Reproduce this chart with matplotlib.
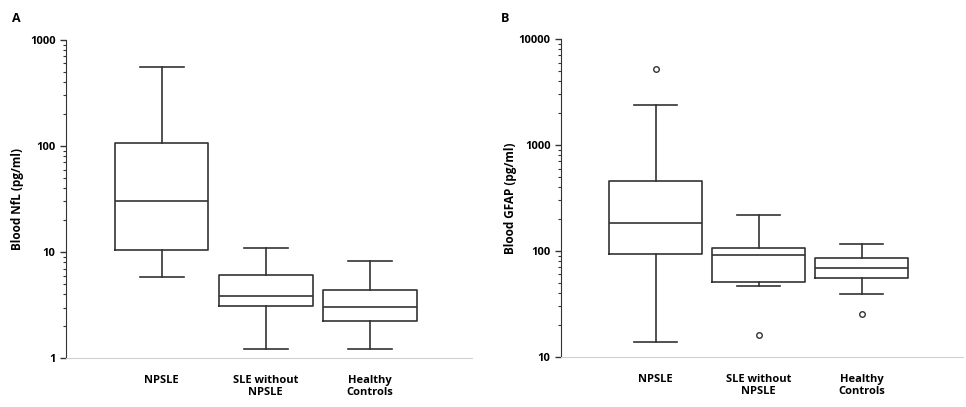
import matplotlib.pyplot as plt
from matplotlib.ticker import LogLocator, NullFormatter

plt.rcParams['font.family'] = ['Open Sans', 'DejaVu Sans']

groups = ['NPSLE', 'SLE without\nNPSLE', 'Healthy\nControls']

# panel A: blood NfL (pg/ml)
nfl_whislo = [5.8, 1.22, 1.22]
nfl_q1 = [10.4, 3.09, 2.25]
nfl_med = [30, 3.85, 3.05]
nfl_q3 = [107, 6.07, 4.4]
nfl_whishi = [556, 10.9, 8.2]
nfl_fliers = [[], [], []]

# panel B: blood GFAP (pg/ml)
gfap_whislo = [13.8, 47, 39.5]
gfap_q1 = [93, 51, 56]
gfap_med = [182, 92, 69.7]
gfap_q3 = [454, 107, 86.5]
gfap_whishi = [2366, 220, 116]
gfap_fliers = [[5210], [16], [25.5]]

col = '#333333'


def make_stats(lo, q1, med, q3, hi, fl):
    return [dict(whislo=a, q1=b, med=c, q3=d, whishi=e, fliers=f)
            for a, b, c, d, e, f in zip(lo, q1, med, q3, hi, fl)]


def draw(ax, stats, ylim, ylabel, letter, xletter, labx):
    ax.bxp(stats, positions=[1, 2, 3], widths=0.9, showfliers=True,
           boxprops=dict(color=col, linewidth=1.2),
           medianprops=dict(color=col, linewidth=1.2),
           whiskerprops=dict(color=col, linewidth=1.2),
           capprops=dict(color=col, linewidth=1.2),
           flierprops=dict(marker='o', markersize=4, markerfacecolor='white',
                           markeredgecolor=col, markeredgewidth=1.0),
           capwidths=0.42)
    ax.set_yscale('log')
    ax.set_ylim(*ylim)
    ax.set_xlim(0.08, 3.98)
    ax.set_xticks([1, 2, 3])
    ax.set_xticklabels(groups, fontsize=8, fontweight='bold')
    ax.tick_params(axis='x', length=0, pad=12)
    ax.yaxis.set_major_locator(LogLocator(base=10))
    ax.yaxis.set_minor_locator(LogLocator(base=10, subs=range(2, 10)))
    ax.yaxis.set_minor_formatter(NullFormatter())
    ax.set_yticklabels([f'{int(v)}' for v in ax.get_yticks()])
    ax.set_ylim(*ylim)
    for t in ax.get_yticklabels():
        t.set_fontweight('bold')
        t.set_fontsize(8)
    ax.tick_params(axis='y', which='major', length=4, width=1, color=col, direction='out')
    ax.tick_params(axis='y', which='minor', length=2.5, width=0.8, color=col, direction='out')
    ax.spines['top'].set_visible(False)
    ax.spines['right'].set_visible(False)
    ax.spines['left'].set_color(col)
    ax.spines['bottom'].set_color('#d0d0d0')
    ax.set_ylabel(ylabel, fontsize=8.5, fontweight='bold')
    ax.yaxis.set_label_coords(labx, 0.5)
    fig.text(xletter, 0.955, letter, fontsize=9, fontweight='bold', va='center')


fig = plt.figure(figsize=(9.66, 4.07), dpi=100)
ax1 = fig.add_axes([0.0683, 0.120, 0.420, 0.782])
ax2 = fig.add_axes([0.5807, 0.123, 0.416, 0.781])

draw(ax1, make_stats(nfl_whislo, nfl_q1, nfl_med, nfl_q3, nfl_whishi, nfl_fliers),
     (1, 1000), 'Blood NfL (pg/ml)', 'A', 0.012, -0.104)
draw(ax2, make_stats(gfap_whislo, gfap_q1, gfap_med, gfap_q3, gfap_whishi, gfap_fliers),
     (10, 10000), 'Blood GFAP (pg/ml)', 'B', 0.519, -0.11)

fig.savefig('out.png', dpi=100)
